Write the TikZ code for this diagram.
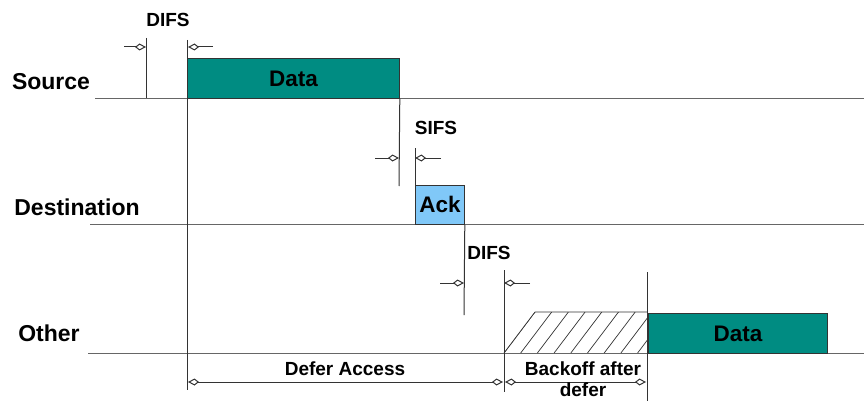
\documentclass[tikz,border=0pt]{standalone}
\usepackage{fontspec}
\setmainfont{Liberation Sans}
\usetikzlibrary{arrows.meta}
\definecolor{dataTeal}{RGB}{0,140,130}
\definecolor{ackBlue}{RGB}{128,200,248}

\tikzset{
  timeline/.style={draw=black!60, line width=0.9pt},
  marker/.style={draw=black!80, line width=1pt},
  gap/.style={-{Kite[open,length=11pt,width=7pt,inset=4.5pt]}, draw=black!80, line width=1pt},
  span/.style={{Kite[open,length=11pt,width=7pt,inset=4.5pt]}-{Kite[open,length=11pt,width=7pt,inset=4.5pt]},
               draw=black!80, line width=1pt},
  lbl/.style={font=\bfseries\fontsize{19}{21}\selectfont, inner sep=0pt},
  rowlbl/.style={font=\bfseries\fontsize{23}{25}\selectfont, inner sep=0pt},
  frame/.style={draw=black!80, line width=0.8pt, inner sep=0pt, anchor=north west,
                font=\bfseries\fontsize{22.5}{24}\selectfont},
}

\begin{document}
\begin{tikzpicture}[x=1pt,y=-1pt]
\useasboundingbox (0,0) rectangle (864,401);

% station time lines
\coordinate (srcL) at (95,98);   \coordinate (srcR) at (864,98);
\coordinate (dstL) at (90,224);  \coordinate (dstR) at (864,224);
\coordinate (othL) at (88,353);  \coordinate (othR) at (864,353);
\draw[timeline] (srcL) -- (srcR);
\draw[timeline] (dstL) -- (dstR);
\draw[timeline] (othL) -- (othR);

% row labels
\node[rowlbl] (lsrc) at (51,82) {Source};
\node[rowlbl] (ldst) at (77,207) {Destination};
\node[rowlbl] (loth) at (49,333) {Other};

% backoff slots (hatched)
\coordinate (bk1) at (504,353);
\coordinate (bk2) at (535,312);
\coordinate (bk3) at (647,312);
\coordinate (bk4) at (647,353);
\begin{scope}
  \clip (bk1) -- (bk2) -- (bk3) -- (bk4) -- cycle;
  \foreach \i in {0,...,9}
    \draw[draw=black!80, line width=0.7pt] (504+16.7*\i,353) -- ++(31,-41);
\end{scope}
\draw[draw=black!80, line width=0.7pt] (bk1) -- (bk2) -- (bk3);

% frames
\node[frame, fill=dataTeal, minimum width=212pt, minimum height=40pt] (data1) at (187,58) {Data};
\node[frame, fill=ackBlue, minimum width=49pt, minimum height=39pt] (ack) at (415,185) {Ack};
\node[frame, fill=dataTeal, minimum width=179pt, minimum height=40pt] (data2) at (648,313) {Data};

% interval boundaries
\coordinate (d1a) at (146,38);  \coordinate (d1b) at (146,98);
\coordinate (d2a) at (187,40);  \coordinate (d2b) at (187,390);
\coordinate (s1b) at (399,186);
\coordinate (s2a) at (415,148);
\coordinate (f1b) at (464,315);
\coordinate (f2a) at (504,270); \coordinate (f2b) at (504,392);
\coordinate (bka) at (647,272); \coordinate (bkb) at (647,401);
\draw[marker] (d1a) -- (d1b);
\draw[marker] (d2a) -- (d2b);
\draw[marker] (data1.south east) -- (s1b);
\draw[marker] (s2a) -- (ack.north west);
\draw[marker] (ack.south east) -- (f1b);
\draw[marker] (f2a) -- (f2b);
\draw[marker] (bka) -- (bkb);

% interframe space indicators
\coordinate (a1) at (124,47);  \coordinate (a2) at (146,47);
\coordinate (a3) at (213,47);  \coordinate (a4) at (188,47);
\coordinate (b1) at (375,158); \coordinate (b2) at (399,158);
\coordinate (b3) at (441,158); \coordinate (b4) at (415,158);
\coordinate (c1) at (440,283); \coordinate (c2) at (464,283);
\coordinate (c3) at (530,283); \coordinate (c4) at (504,283);
\draw[gap] (a1) -- (a2);
\draw[gap] (a3) -- (a4);
\draw[gap] (b1) -- (b2);
\draw[gap] (b3) -- (b4);
\draw[gap] (c1) -- (c2);
\draw[gap] (c3) -- (c4);

\node[lbl] (difs1) at (168,20) {DIFS};
\node[lbl] (sifs) at (436,128) {SIFS};
\node[lbl] (difs2) at (489,253) {DIFS};

% deferral spans
\coordinate (e1) at (188,382); \coordinate (e2) at (503,382);
\coordinate (e3) at (505,382); \coordinate (e4) at (646,382);
\draw[span] (e1) -- (e2);
\draw[span] (e3) -- (e4);
\node[lbl] (defer) at (345,369) {Defer Access};
\node[lbl] (back1) at (583,369) {Backoff after};
\node[lbl] (back2) at (583,390) {defer};
\end{tikzpicture}
\end{document}
